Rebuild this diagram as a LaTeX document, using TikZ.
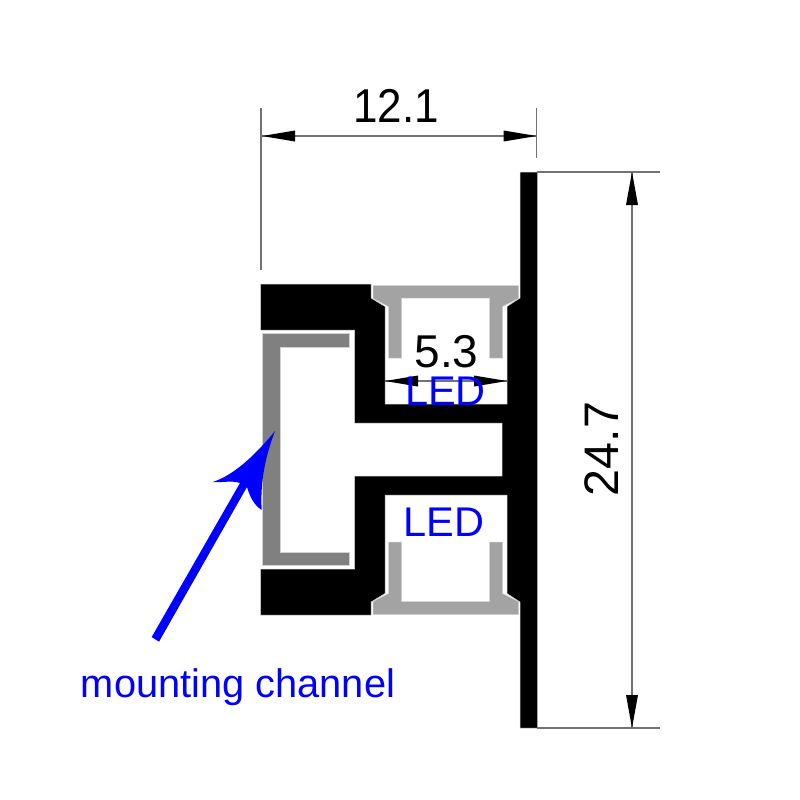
\documentclass[tikz,border=0pt]{standalone}
\usepackage{fontspec}
\setmainfont{Liberation Sans}
\definecolor{darkgrey}{gray}{0.5}
\definecolor{lightgrey}{gray}{0.64}
\definecolor{edgegrey}{gray}{0.82}
\definecolor{dimgrey}{gray}{0.45}
\tikzset{
  x=1pt,y=-1pt,
  profile/.style={fill=black,draw=edgegrey,line width=0.5pt,line join=miter},
  lightpart/.style={fill=lightgrey,draw=edgegrey,line width=0.5pt},
  darkpart/.style={fill=darkgrey,draw=edgegrey,line width=0.5pt},
  dimline/.style={draw=dimgrey,line width=1.1pt},
  dimtip/.style={fill=black,draw=none},
  dimtext/.style={text=black,inner sep=0pt,anchor=base},
  bluetext/.style={font=\fontsize{41.5}{42}\selectfont,text=blue,inner sep=0pt,anchor=base},
}
\newcommand{\tiphoriz}[2]{\fill[dimtip] (#1) -- ++(#2*33,-5.5) -- ++(0,11) -- cycle;}
\newcommand{\tipvert}[2]{\fill[dimtip] (#1) -- ++(-6,#2*33) -- ++(12,0) -- cycle;}
\begin{document}
\begin{tikzpicture}
\useasboundingbox (0,0) rectangle (800,800);
\fill[white] (0,0) rectangle (800,800);
% black profile
\draw[profile] (260.5,284) -- (371,284) -- (371,298) -- (385,306.5) -- (385,404) -- (507,404) -- (507,306.5) -- (520,298) -- (520,172) -- (537.5,172) -- (537.5,728) -- (520,728) -- (520,602) -- (507,593.5) -- (507,495) -- (385,495) -- (385,593.5) -- (371,602) -- (371,615) -- (260.5,615) -- (260.5,569) -- (354.5,569) -- (354.5,476) -- (502,476) -- (502,423) -- (354.5,423) -- (354.5,330) -- (260.5,330) -- cycle;
% upper light insert
\draw[lightpart] (373,285.5) -- (518.5,285.5) -- (518.5,298.5) -- (502.5,306.5) -- (502.5,358) -- (489.5,358) -- (489.5,298) -- (401.5,298) -- (401.5,358) -- (388.5,358) -- (388.5,306.5) -- (373,298.5) -- cycle;
% lower light insert
\draw[lightpart] (373,614.5) -- (518.5,614.5) -- (518.5,601.5) -- (502.5,593.5) -- (502.5,542) -- (489.5,542) -- (489.5,601.5) -- (401.5,601.5) -- (401.5,542) -- (388.5,542) -- (388.5,593.5) -- (373,601.5) -- cycle;
% mounting channel
\draw[darkpart] (262,333.5) -- (349.5,333.5) -- (349.5,347) -- (280,347) -- (280,552) -- (349.5,552) -- (349.5,565) -- (262,565) -- cycle;
% width dimension
\coordinate (wl) at (262,136);
\coordinate (wr) at (536.5,136);
\coordinate (wlt) at (261,108);
\coordinate (wlb) at (261,270);
\coordinate (wrt) at (536.5,108);
\coordinate (wrb) at (536.5,158);
\draw[dimline] (wlt) -- (wlb);
\draw[dimline] (wrt) -- (wrb);
\draw[dimline] (wl) -- (wr);
\tiphoriz{wl}{1}
\tiphoriz{wr}{-1}
\node[dimtext,font=\fontsize{44}{44}\selectfont] (wtext) at (396,122.5) {\scalebox{1}[1.08]{12.1}};
% height dimension
\coordinate (ht) at (632,172);
\coordinate (hb) at (632,728);
\coordinate (htl) at (537,172);
\coordinate (htr) at (660,172);
\coordinate (hbl) at (537,728);
\coordinate (hbr) at (660,728);
\draw[dimline] (htl) -- (htr);
\draw[dimline] (hbl) -- (hbr);
\draw[dimline] (ht) -- (hb);
\tipvert{ht}{1}
\tipvert{hb}{-1}
\node[dimtext,font=\fontsize{48.5}{49}\selectfont,rotate=90] (htext) at (618,449) {24.7};
% led width dimension
\coordinate (ll) at (385,381);
\coordinate (lr) at (507,381);
\draw[dimline] (ll) -- (lr);
\tiphoriz{ll}{1}
\tiphoriz{lr}{-1}
\node[dimtext,font=\fontsize{46}{46}\selectfont] (ltext) at (446.5,367) {5.3};
% labels
\node[bluetext] (ledone) at (445.5,405) {LED};
\node[bluetext] (ledtwo) at (444,536) {LED};
\node[font=\fontsize{39.8}{40}\selectfont,text=blue,inner sep=0pt,anchor=base] (mc) at (238,697) {mounting channel};
% blue arrow
\fill[blue] (151.7,637) -- (240,483) .. controls (230,480) and (222,483) .. (212.7,482) .. controls (235,475) and (258,452) .. (275,431) .. controls (266,455) and (260,480) .. (261.7,510) .. controls (254,505) and (250,497) .. (247,487) -- (159,641.7) -- cycle;
\end{tikzpicture}
\end{document}
